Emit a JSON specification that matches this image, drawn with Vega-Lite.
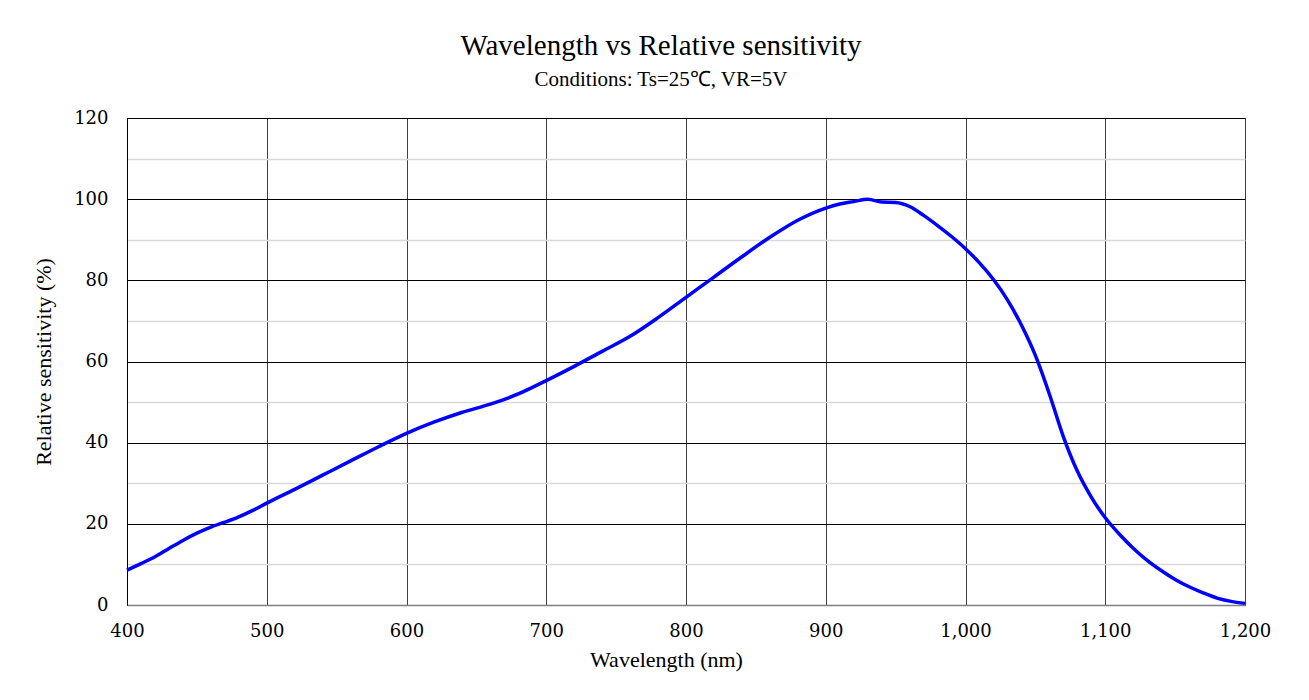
{
  "$schema": "https://vega.github.io/schema/vega-lite/v6.json",
  "width": 1118,
  "height": 487,
  "autosize": "none",
  "padding": {"left": 127, "top": 118, "right": 64, "bottom": 95},
  "background": "white",
  "title": {
    "text": "Wavelength vs Relative sensitivity",
    "subtitle": "Conditions: Ts=25℃, VR=5V",
    "anchor": "middle",
    "frame": "group",
    "dx": -25,
    "offset": 19,
    "font": "Liberation Serif",
    "fontSize": 29,
    "fontWeight": "normal",
    "color": "#000000",
    "subtitleFont": "Liberation Serif",
    "subtitleFontSize": 21,
    "subtitleColor": "#000000",
    "subtitlePadding": 8
  },
  "config": {
    "view": {"stroke": "#404040", "strokeWidth": 1}
  },
  "data": {
    "values": [
      {"wl": 400, "rs": 8.6}, {"wl": 410, "rs": 10.2}, {"wl": 420, "rs": 11.9},
      {"wl": 430, "rs": 13.9}, {"wl": 440, "rs": 15.9}, {"wl": 450, "rs": 17.7},
      {"wl": 460, "rs": 19.2}, {"wl": 470, "rs": 20.4}, {"wl": 480, "rs": 21.7},
      {"wl": 490, "rs": 23.3}, {"wl": 500, "rs": 25.1}, {"wl": 520, "rs": 28.5},
      {"wl": 540, "rs": 32.0}, {"wl": 560, "rs": 35.5}, {"wl": 580, "rs": 39.0},
      {"wl": 600, "rs": 42.3}, {"wl": 620, "rs": 45.1}, {"wl": 640, "rs": 47.5},
      {"wl": 660, "rs": 49.5}, {"wl": 680, "rs": 52.0}, {"wl": 700, "rs": 55.3},
      {"wl": 720, "rs": 58.8}, {"wl": 740, "rs": 62.5}, {"wl": 760, "rs": 66.2},
      {"wl": 780, "rs": 70.8}, {"wl": 800, "rs": 75.8}, {"wl": 820, "rs": 80.8},
      {"wl": 840, "rs": 85.8}, {"wl": 860, "rs": 90.6}, {"wl": 880, "rs": 94.8},
      {"wl": 900, "rs": 97.8}, {"wl": 910, "rs": 98.8}, {"wl": 920, "rs": 99.4},
      {"wl": 930, "rs": 100.0}, {"wl": 940, "rs": 99.3}, {"wl": 950, "rs": 99.2},
      {"wl": 960, "rs": 98.2}, {"wl": 970, "rs": 96.0}, {"wl": 980, "rs": 93.5},
      {"wl": 990, "rs": 90.8}, {"wl": 1000, "rs": 87.8}, {"wl": 1010, "rs": 84.3},
      {"wl": 1020, "rs": 80.2}, {"wl": 1030, "rs": 75.2}, {"wl": 1040, "rs": 69.0},
      {"wl": 1050, "rs": 61.5}, {"wl": 1060, "rs": 52.0}, {"wl": 1070, "rs": 41.5},
      {"wl": 1080, "rs": 33.0}, {"wl": 1090, "rs": 26.6}, {"wl": 1100, "rs": 21.5},
      {"wl": 1110, "rs": 17.5}, {"wl": 1120, "rs": 14.0}, {"wl": 1130, "rs": 11.0},
      {"wl": 1140, "rs": 8.5}, {"wl": 1150, "rs": 6.3}, {"wl": 1160, "rs": 4.5},
      {"wl": 1170, "rs": 3.0}, {"wl": 1180, "rs": 1.7}, {"wl": 1190, "rs": 0.9},
      {"wl": 1200, "rs": 0.4}
    ]
  },
  "mark": {"type": "line", "color": "#0000FF", "strokeWidth": 3.5, "interpolate": "monotone"},
  "encoding": {
    "x": {
      "field": "wl",
      "type": "quantitative",
      "scale": {"domain": [400, 1200], "nice": false, "zero": false},
      "axis": {
        "title": "Wavelength (nm)",
        "values": [400, 500, 600, 700, 800, 900, 1000, 1100, 1200],
        "format": ",d",
        "ticks": false,
        "labelFlush": false,
        "labelBound": false,
        "labelOverlap": false,
        "domainColor": "#808080",
        "domainWidth": 1.5,
        "gridColor": "#404040",
        "gridWidth": 1,
        "gridOpacity": 1,
        "labelFont": "DejaVu Serif",
        "labelFontSize": 18,
        "labelColor": "#000000",
        "labelPadding": 17,
        "titleFont": "Liberation Serif",
        "titleFontSize": 22,
        "titleFontWeight": "normal",
        "titleColor": "#000000",
        "titlePadding": 9,
        "titleX": 539
      }
    },
    "y": {
      "field": "rs",
      "type": "quantitative",
      "scale": {"domain": [0, 120], "nice": false},
      "axis": {
        "title": "Relative sensitivity (%)",
        "values": [0, 10, 20, 30, 40, 50, 60, 70, 80, 90, 100, 110, 120],
        "labelExpr": "datum.value % 20 === 0 ? datum.label : ''",
        "ticks": false,
        "labelOverlap": false,
        "domainColor": "#000000",
        "domainWidth": 1,
        "gridColor": {"condition": {"test": "datum.value % 20 === 0", "value": "#000000"}, "value": "#d9d9d9"},
        "gridWidth": {"condition": {"test": "datum.value % 20 === 0", "value": 1}, "value": 1.5},
        "gridOpacity": 1,
        "labelFont": "DejaVu Serif",
        "labelFontSize": 18,
        "labelColor": "#000000",
        "labelPadding": 19,
        "titleFont": "Liberation Serif",
        "titleFontSize": 22,
        "titleFontWeight": "normal",
        "titleColor": "#000000",
        "titlePadding": 18
      }
    }
  }
}
